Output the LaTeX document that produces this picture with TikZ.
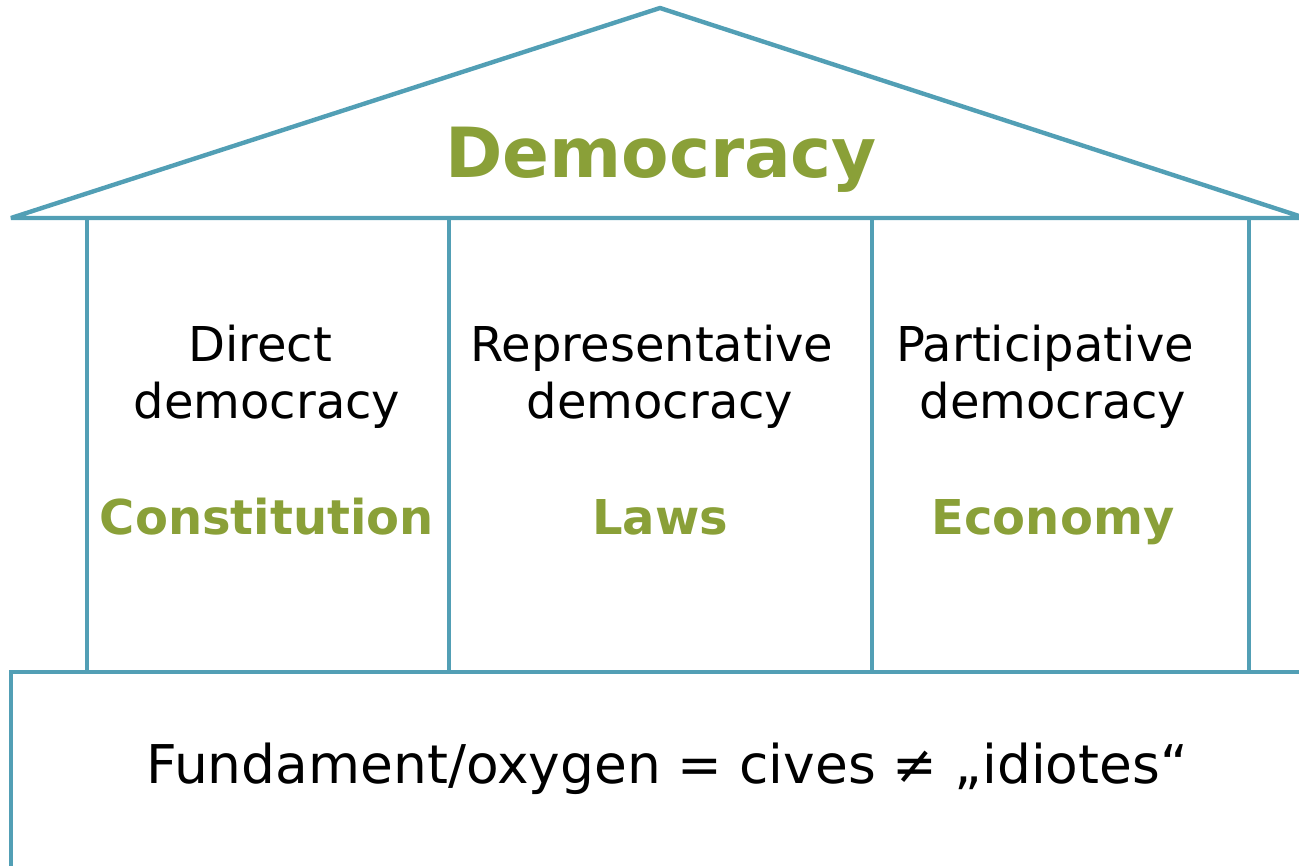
\documentclass[tikz,border=0pt]{standalone}
\usepackage{fontspec}
\setmainfont{DejaVu Sans}
\definecolor{houseblue}{HTML}{529FB5}
\definecolor{housegreen}{HTML}{8AA038}
\begin{document}
\begin{tikzpicture}[x=1pt,y=-1pt,
  wall/.style={draw=houseblue,line width=4.4pt,line join=bevel},
  pillar/.style={draw=houseblue,line width=3.4pt},
  plain/.style={anchor=base,inner sep=0pt,font=\fontsize{48}{56}\selectfont},
  greenlbl/.style={anchor=base,inner sep=0pt,text=housegreen,font=\fontsize{48}{56}\selectfont\bfseries},
  title/.style={anchor=base,inner sep=0pt,text=housegreen,font=\fontsize{69.2}{80}\selectfont\bfseries},
  foot/.style={anchor=base,inner sep=0pt,font=\fontsize{53.4}{62}\selectfont}]
\useasboundingbox (0,0) rectangle (1299,866);
% roof
\coordinate (roofL) at (11,218);
\coordinate (apex) at (660,8);
\coordinate (roofR) at (1299,216);
\coordinate (beamR) at (1299,218);
\draw[wall] (beamR) -- (roofL) -- (apex) -- (roofR);
% pillars
\coordinate (p1t) at (87,218);   \coordinate (p1b) at (87,672);
\coordinate (p2t) at (449,218);  \coordinate (p2b) at (449,672);
\coordinate (p3t) at (872,218);  \coordinate (p3b) at (872,672);
\coordinate (p4t) at (1249,218); \coordinate (p4b) at (1249,672);
\draw[wall,line width=4pt] (p1t) -- (p1b);
\draw[pillar] (p2t) -- (p2b);
\draw[pillar] (p3t) -- (p3b);
\draw[wall,line width=4pt] (p4t) -- (p4b);
% foundation
\coordinate (fBL) at (11,870);
\coordinate (fTL) at (11,672);
\coordinate (fTR) at (1299,672);
\draw[wall,line join=miter] (fBL) -- (fTL) -- (fTR);
% texts
\node[title] (dem) at (661,178) {Democracy};
\node[plain] (d1) at (260,362) {Direct};
\node[plain] (d2) at (267,419) {democracy};
\node[plain] (r1) at (652,362) {Representative};
\node[plain] (r2) at (660,419) {democracy};
\node[plain] (pa1) at (1045,362) {Participative};
\node[plain] (pa2) at (1053,419) {democracy};
\node[greenlbl] (con) at (267,534) {Constitution};
\node[greenlbl] (law) at (660,534) {Laws};
\node[greenlbl] (eco) at (1053,534) {Economy};
\node[foot] (fund) at (667,783) {Fundament/oxygen = cives ≠ „idiotes“};
\end{tikzpicture}
\end{document}
